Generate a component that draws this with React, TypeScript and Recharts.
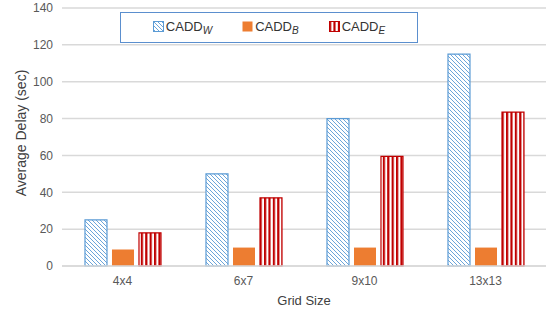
import { Bar, BarChart, CartesianGrid, Label, XAxis, YAxis } from 'recharts'

const grids = ['4x4', '6x7', '9x10', '13x13']
const caddW = [25, 50, 80, 115]
const caddB = [9, 10, 10, 10]
const caddE = [18, 37, 59.5, 83.5]
const yTicks = [0, 20, 40, 60, 80, 100, 120, 140]

const rows = grids.map((g, i) => ({ grid: g, w: caddW[i], b: caddB[i], e: caddE[i] }))

const font = "'Liberation Sans', Arial, sans-serif"
const txt = '#595959'

function Swatch(props: { fill: string; stroke?: string }) {
  return (
    <svg width={11} height={11} style={{ verticalAlign: '-1px', marginRight: 2 }}>
      <rect x={0.5} y={0.5} width={10} height={10} fill={props.fill} stroke={props.stroke ?? 'none'} />
    </svg>
  )
}

function Item(props: { fill: string; stroke?: string; sub: string }) {
  return (
    <span style={{ display: 'inline-block', fontSize: 13, color: '#333', fontFamily: font, lineHeight: '16px' }}>
      <Swatch fill={props.fill} stroke={props.stroke} />
      CADD
      <span style={{ fontStyle: 'italic', fontSize: 10, position: 'relative', top: 3 }}>{props.sub}</span>
    </span>
  )
}

function LegendBox() {
  return (
    <div
      style={{
        position: 'absolute',
        top: 12,
        left: 120,
        width: 296,
        height: 29,
        border: '1px solid #5b8fce',
        background: '#fff',
        display: 'flex',
        alignItems: 'center',
        justifyContent: 'center',
        gap: 30,
      }}
    >
      <Item fill="url(#hatchW)" stroke="#5b9bd5" sub="W" />
      <Item fill="#ed7d31" sub="B" />
      <Item fill="url(#stripeE)" stroke="#c00000" sub="E" />
    </div>
  )
}

export default function App() {
  return (
    <div style={{ position: 'relative', width: 548, height: 311, background: '#fff' }}>
      <style>{'body{margin:0}'}</style>
      <BarChart
        width={548}
        height={311}
        data={rows}
        margin={{ top: 8, right: 2, left: 30, bottom: 0 }}
        barCategoryGap="19%"
        barGap={5}
      >
        <defs>
          <pattern id="hatchW" patternUnits="userSpaceOnUse" width={4} height={4}>
            <rect width={4} height={4} fill="#fff" />
            <path d="M-1,-1 L5,5 M-1,3 L1,5 M3,-1 L5,1" stroke="#5b9bd5" strokeWidth={0.9} />
          </pattern>
          <pattern id="stripeE" patternUnits="userSpaceOnUse" width={4.4} height={4}>
            <rect width={4.4} height={4} fill="#fff" />
            <rect x={0} width={2.2} height={4} fill="#c00000" />
          </pattern>
        </defs>
        <CartesianGrid vertical={false} stroke="#d9d9d9" strokeWidth={1.5} />
        <XAxis
          dataKey="grid"
          height={45}
          tickLine={false}
          axisLine={{ stroke: '#d9d9d9', strokeWidth: 1.5 }}
          tick={{ fill: txt, fontSize: 12, fontFamily: font }}
          tickMargin={4}
        >
          <Label value="Grid Size" position="insideBottom" offset={6} fill="#404040" fontSize={13} fontFamily={font} />
        </XAxis>
        <YAxis
          width={32}
          domain={[0, 140]}
          ticks={yTicks}
          interval={0}
          axisLine={false}
          tickLine={false}
          tickSize={0}
          tickMargin={9}
          tick={{ fill: txt, fontSize: 12, fontFamily: font }}
        >
          <Label
            value="Average Delay (sec)"
            angle={-90}
            position="insideLeft"
            offset={-9}
            dy={-4}
            style={{ textAnchor: 'middle' }}
            fill="#404040"
            fontSize={14}
            fontFamily={font}
          />
        </YAxis>
        <Bar dataKey="w" fill="url(#hatchW)" stroke="#5b9bd5" strokeWidth={1.2} isAnimationActive={false} />
        <Bar dataKey="b" fill="#ed7d31" isAnimationActive={false} />
        <Bar dataKey="e" fill="url(#stripeE)" stroke="#c00000" strokeWidth={1.2} isAnimationActive={false} />
      </BarChart>
      <LegendBox />
    </div>
  )
}
